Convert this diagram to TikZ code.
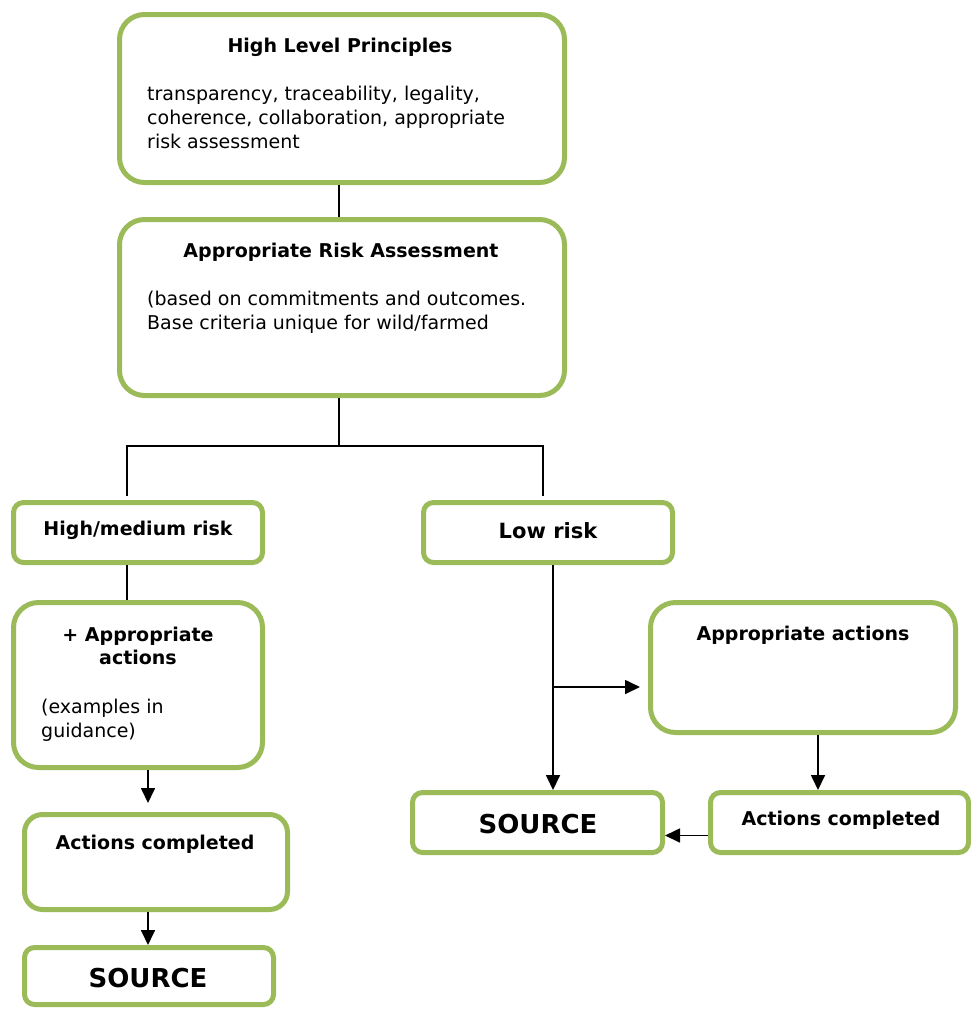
\documentclass[tikz,border=0pt]{standalone}
\usepackage{fontspec}
\setmainfont{DejaVu Sans}
\usetikzlibrary{arrows.meta}
\definecolor{boxgreen}{HTML}{9BBB59}
\begin{document}
\begin{tikzpicture}[x=1pt,y=-1pt,
  box/.style={draw=boxgreen, line width=5pt, fill=white, rounded corners=#1, inner sep=0pt},
  box/.default=25pt,
  txt/.style={inner sep=0pt, font=\fontsize{19}{24}\selectfont},
  hd/.style={inner sep=0pt, font=\bfseries\fontsize{19}{24}\selectfont},
  big/.style={inner sep=0pt, font=\bfseries\fontsize{21}{24}\selectfont},
  src/.style={inner sep=0pt, font=\bfseries\fontsize{26}{30}\selectfont},
  conn/.style={draw=black, line width=1.7pt},
  arr/.style={conn, -{Triangle[length=15pt,width=14pt]}}]
\useasboundingbox (0,0) rectangle (971,1009);
% boxes
\node[box, minimum width=445pt, minimum height=168pt] (b1) at (342,98.5) {};
\node[box, minimum width=445pt, minimum height=176pt] (b2) at (342,307.5) {};
\node[box=10pt, minimum width=249pt, minimum height=60pt] (b3) at (138,532.5) {};
\node[box=10pt, minimum width=249pt, minimum height=60pt] (b4) at (548,532.5) {};
\node[box, minimum width=249pt, minimum height=165pt] (b5) at (138,685) {};
\node[box=18pt, minimum width=263pt, minimum height=95pt] (b6) at (156,862) {};
\node[box=10pt, minimum width=249pt, minimum height=57pt] (b7) at (149,976) {};
\node[box, minimum width=305pt, minimum height=130pt] (b8) at (803,667.5) {};
\node[box=10pt, minimum width=250pt, minimum height=60pt] (b9) at (537.5,822.5) {};
\node[box=10pt, minimum width=258pt, minimum height=60pt] (b10) at (839.5,822.5) {};
% texts
\node[hd, anchor=base] (t1) at (340,52) {High Level Principles};
\node[txt, anchor=base west] (t1a) at (147,100) {transparency, traceability, legality,};
\node[txt, anchor=base west] (t1b) at (147,124) {coherence, collaboration, appropriate};
\node[txt, anchor=base west] (t1c) at (147,148) {risk assessment};
\node[hd, anchor=base] (t2) at (341,257) {Appropriate Risk Assessment};
\node[txt, anchor=base west] (t2a) at (147,305) {(based on commitments and outcomes.};
\node[txt, anchor=base west] (t2b) at (147,329) {Base criteria unique for wild/farmed};
\node[hd, anchor=base] (t3) at (138,535) {High/medium risk};
\node[big, anchor=base] (t4) at (548,538) {Low risk};
\node[hd, anchor=base] (t5a) at (138,641) {+ Appropriate};
\node[hd, anchor=base] (t5b) at (138,664) {actions};
\node[txt, anchor=base west] (t5c) at (41,713) {(examples in};
\node[txt, anchor=base west] (t5d) at (41,737) {guidance)};
\node[hd, anchor=base] (t6) at (155,849) {Actions completed};
\node[src, anchor=base] (t7) at (148,987) {SOURCE};
\node[hd, anchor=base] (t8) at (803,640) {Appropriate actions};
\node[src, anchor=base] (t9) at (538,833) {SOURCE};
\node[hd, anchor=base] (t10) at (841,825) {Actions completed};
% connectors
\draw[conn] ([xshift=-3pt]b1.south) -- ([xshift=-3pt]b2.north);
\draw[conn] ([xshift=-3pt]b2.south) -- ++(0,48) coordinate (split);
\draw[conn] ([xshift=-11pt,yshift=4pt]b3.north) |- (split) -| ([xshift=-5pt,yshift=4pt]b4.north);
\draw[conn] ([xshift=-11pt]b3.south) -- ([xshift=-11pt]b5.north);
\draw[arr, shorten >=9pt] ([xshift=10pt]b5.south) -- ([xshift=-8pt]b6.north);
\draw[arr] ([xshift=-8pt]b6.south) -- ([xshift=-1pt]b7.north);
\draw[arr] ([xshift=5pt]b4.south) -- ([xshift=15.5pt]b9.north);
\coordinate (br) at (553,687);
\draw[arr, shorten >=8pt] (br) -- (br -| b8.west);
\draw[arr] ([xshift=15pt]b8.south) -- ([xshift=-21.5pt]b10.north);
\draw[arr] ([yshift=-13pt]b10.west) -- ([yshift=-13pt]b9.east);
\end{tikzpicture}
\end{document}
